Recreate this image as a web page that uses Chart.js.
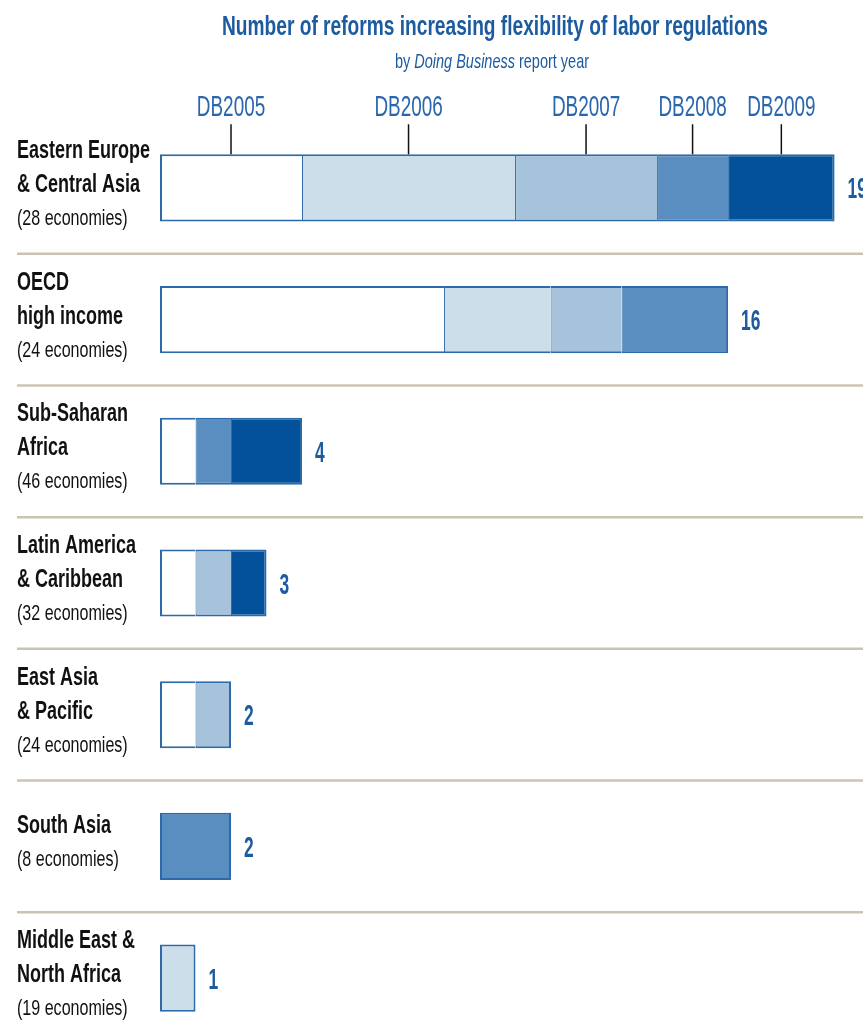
<!DOCTYPE html>
<html>
<head>
<meta charset="utf-8">
<script src="https://cdn.jsdelivr.net/npm/chart.js@4/dist/chart.umd.min.js"></script>
<style>
    html, body { margin: 0; padding: 0; background: #fff; overflow: hidden; }
    #wrap { position: absolute; left: 0; top: 0; width: 863px; height: 1050px; }
</style>
</head>
<body>
<div id="wrap"><canvas id="chart" width="863" height="1050"></canvas></div>
<script>
// Regiones (líneas del nombre) y número de economías
const regiones = [
    ['Eastern Europe', '& Central Asia'],
    ['OECD', 'high income'],
    ['Sub-Saharan', 'Africa'],
    ['Latin America', '& Caribbean'],
    ['East Asia', '& Pacific'],
    ['South Asia'],
    ['Middle East &', 'North Africa']
];
const economias = [28, 24, 46, 32, 24, 8, 19];

// Años del informe
const anios = ['DB2005', 'DB2006', 'DB2007', 'DB2008', 'DB2009'];

// Reformas por año (mismo orden que regiones)
const db2005 = [4, 8, 1, 1, 1, 0, 0];
const db2006 = [6, 3, 0, 0, 0, 0, 1];
const db2007 = [4, 2, 0, 1, 1, 0, 0];
const db2008 = [2, 3, 1, 0, 0, 2, 0];
const db2009 = [3, 0, 2, 1, 0, 0, 0];

const series = [db2005, db2006, db2007, db2008, db2009];
const colores = ['#ffffff', '#cddeeb', '#a7c3dc', '#5b8ec0', '#03519a'];
const azul = '#1d5ba0';
const borde = '#2e6aa7';

const totales = regiones.map((r, i) => series.reduce((s, d) => s + d[i], 0));
// primer y último segmento no vacío de cada barra
const primero = regiones.map((r, i) => series.findIndex(d => d[i] > 0));
const ultimo = regiones.map((r, i) => {
    let k = -1;
    series.forEach((d, j) => { if (d[i] > 0) k = j; });
    return k;
});

// Texto condensado (escala horizontal)
function texto(ctx, s, x, y, font, color, sx, align) {
    ctx.save();
    ctx.font = font;
    ctx.fillStyle = color;
    ctx.textBaseline = 'alphabetic';
    ctx.textAlign = 'left';
    const w = ctx.measureText(s).width * sx;
    let x0 = x;
    if (align === 'center') x0 = x - w / 2;
    if (align === 'right') x0 = x - w;
    ctx.translate(x0, y);
    ctx.scale(sx, 1);
    ctx.fillText(s, 0, 0);
    ctx.restore();
    return w;
}

function ancho(ctx, s, font, sx) {
    ctx.save();
    ctx.font = font;
    const w = ctx.measureText(s).width * sx;
    ctx.restore();
    return w;
}

const F = '"Liberation Sans", Arial, sans-serif';

const decorado = {
    id: 'decorado',
    afterDatasetsDraw(chart) {
        const ctx = chart.ctx;
        const x = chart.scales.x;
        const y = chart.scales.y;
        const W = chart.width;

        // Título y subtítulo
        texto(ctx, 'Number of reforms increasing flexibility of labor regulations',
            495, 35, 'bold 28px ' + F, azul, 0.684, 'center');
        const partes = [
            ['by ', '21px ' + F],
            ['Doing Business', 'italic 21px ' + F],
            [' report year', '21px ' + F]
        ];
        const sxSub = 0.69;
        const total = partes.reduce((s, p) => s + ancho(ctx, p[0], p[1], sxSub), 0);
        let px = 492 - total / 2;
        partes.forEach(p => { px += texto(ctx, p[0], px, 68, p[1], azul, sxSub, 'left'); });

        // Líneas separadoras entre regiones
        ctx.save();
        ctx.strokeStyle = '#cbc4b2';
        ctx.lineWidth = 2.5;
        for (let i = 0; i < regiones.length - 1; i++) {
            const ym = (y.getPixelForValue(i) + y.getPixelForValue(i + 1)) / 2;
            ctx.beginPath();
            ctx.moveTo(17, ym);
            ctx.lineTo(W, ym);
            ctx.stroke();
        }
        ctx.restore();

        // Etiquetas de año sobre la primera barra
        const meta0 = chart.getDatasetMeta(0).data[0];
        const topBarra = meta0.y - meta0.height / 2;
        let acum = 0;
        anios.forEach((a, j) => {
            const v = series[j][0];
            const cx = x.getPixelForValue(acum + v / 2);
            acum += v;
            ctx.save();
            ctx.strokeStyle = '#111';
            ctx.lineWidth = 1.5;
            ctx.beginPath();
            ctx.moveTo(cx, topBarra - 30);
            ctx.lineTo(cx, topBarra);
            ctx.stroke();
            ctx.restore();
            texto(ctx, a, cx, 116, '30px ' + F, '#2a66ad', 0.63, 'center');
        });

        // Nombres de regiones y totales
        regiones.forEach((r, i) => {
            const cy = y.getPixelForValue(i);
            const lineas = r.length + 1;
            const inicio = cy - 5 - (lineas - 1) * 34 / 2;
            r.forEach((l, k) => {
                texto(ctx, l, 17, inicio + k * 34 + 9, 'bold 25px ' + F, '#111', 0.72, 'left');
            });
            texto(ctx, '(' + economias[i] + ' economies)', 17, inicio + r.length * 34 + 8,
                '22px ' + F, '#111', 0.73, 'left');

            const xe = x.getPixelForValue(totales[i]);
            texto(ctx, String(totales[i]), xe + 13, cy + 10.5, 'bold 29px ' + F, azul, 0.6, 'left');
        });
    }
};

const ctx = document.getElementById('chart').getContext('2d');
new Chart(ctx, {
    type: 'bar',
    data: {
        labels: regiones.map(r => r.join(' ')),
        datasets: anios.map((a, j) => ({
            label: a,
            data: series[j].map(v => v || null),
            backgroundColor: colores[j],
            borderColor: borde,
            borderSkipped: false,
            borderWidth: c => ({
                top: 2,
                bottom: 2,
                left: primero[c.dataIndex] === j ? 2 : 1,
                right: ultimo[c.dataIndex] === j ? 2 : 0
            }),
            barPercentage: 0.51,
            categoryPercentage: 1.0
        }))
    },
    options: {
        indexAxis: 'y',
        responsive: false,
        devicePixelRatio: 1,
        animation: false,
        layout: { padding: { top: 122, left: 160, right: 0, bottom: 6 } },
        scales: {
            x: { stacked: true, min: 0, max: 19.8, display: false },
            y: { stacked: true, display: false, offset: true }
        },
        plugins: {
            legend: { display: false },
            tooltip: { enabled: false }
        }
    },
    plugins: [decorado]
});
</script>
</body>
</html>
